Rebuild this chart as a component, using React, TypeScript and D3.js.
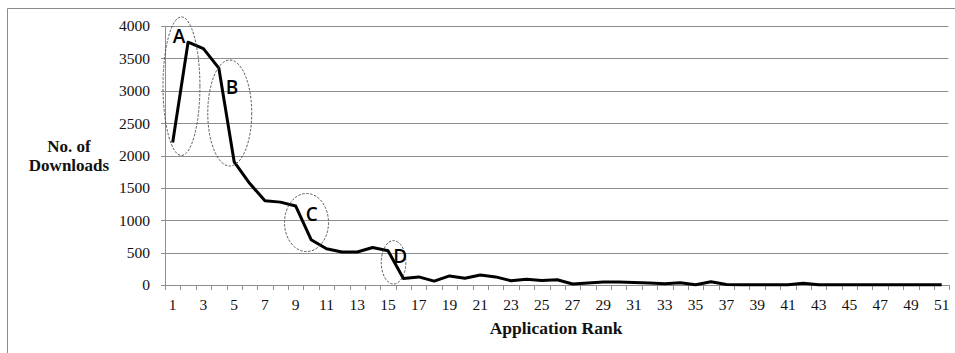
import React from "react";
import * as d3 from "d3";

const ranks: number[] = d3.range(1, 52);
const downloads: number[] = [
  2200, 3750, 3650, 3350, 1900, 1570, 1300, 1280, 1220, 700,
  560, 510, 510, 580, 530, 100, 125, 60, 140, 105,
  155, 125, 65, 90, 70, 80, 15, 30, 45, 45,
  40, 30, 20, 35, 5, 50, 8, 5, 5, 5,
  5, 28, 5, 5, 5, 5, 5, 5, 5, 5, 5,
];
const yTicks: number[] = [0, 500, 1000, 1500, 2000, 2500, 3000, 3500, 4000];
const xTickLabels: number[] = ranks.filter((r) => r % 2 === 1);

// annotation ellipses in data units (rank, value)
const annoLabels: string[] = ["A", "B", "C", "D"];
const annoCx: number[] = [1.57, 4.71, 9.7, 15.36];
const annoCy: number[] = [3070, 2656, 965, 350];
const annoRx: number[] = [1.2, 1.43, 1.43, 0.8];
const annoRy: number[] = [1070, 818, 448, 335];
const annoLx: number[] = [1.41, 4.85, 10.04, 15.8];
const annoLy: number[] = [3845, 3057, 1096, 437];

const W = 955;
const H = 353;
const left = 165;
const right = 949.4;
const top = 26;
const bottom = 285;

export default function App() {
  const x = d3.scaleLinear().domain([0.5, 51.5]).range([left, right]);
  const y = d3.scaleLinear().domain([0, 4000]).range([bottom, top]);
  const pxPerRank = x(1) - x(0);
  const pxPerVal = y(0) - y(1);
  const line = d3
    .line<number>()
    .x((_, i) => x(ranks[i]))
    .y((d) => y(d));
  const boundaries = d3.range(0, 52).map((i) => x(i + 0.5));
  const serif = "Liberation Serif, Times New Roman, serif";
  const sans = "Open Sans, Liberation Sans, sans-serif";

  return (
    <svg
      width={W}
      height={H}
      style={{ position: "absolute", left: 0, top: 0, background: "#fff" }}
    >
      <rect x={0} y={0} width={W} height={H} fill="#fff" />
      {/* outer frame */}
      <line x1={7.5} y1={8.5} x2={W} y2={8.5} stroke="#8c8c8c" strokeWidth={1} />
      <line x1={7.5} y1={8.5} x2={7.5} y2={H} stroke="#8c8c8c" strokeWidth={1} />

      {/* gridlines and y ticks */}
      {yTicks.map((t) => (
        <g key={t}>
          {t > 0 && (
            <line
              x1={left}
              x2={right - 1}
              y1={Math.round(y(t)) + 0.5}
              y2={Math.round(y(t)) + 0.5}
              stroke="#8e8e8e"
              strokeWidth={1}
            />
          )}
          <line
            x1={left - 4}
            x2={left}
            y1={Math.round(y(t)) + 0.5}
            y2={Math.round(y(t)) + 0.5}
            stroke="#8e8e8e"
          />
          <text
            x={150}
            y={y(t)}
            dy="0.35em"
            textAnchor="end"
            style={{ fontFamily: serif, fontSize: 15.5 }}
            fill="#111"
          >
            {t}
          </text>
        </g>
      ))}
      {/* y axis */}
      <line x1={left + 0.5} x2={left + 0.5} y1={top} y2={bottom} stroke="#8e8e8e" />
      {/* x axis */}
      <line x1={left} x2={right} y1={bottom + 0.5} y2={bottom + 0.5} stroke="#8e8e8e" />
      {boundaries.map((b, i) => (
        <line
          key={i}
          x1={Math.round(b) + 0.5}
          x2={Math.round(b) + 0.5}
          y1={bottom}
          y2={bottom + 5}
          stroke="#8e8e8e"
        />
      ))}
      {xTickLabels.map((r) => (
        <text
          key={r}
          x={x(r)}
          y={310}
          textAnchor="middle"
          style={{ fontFamily: serif, fontSize: 15.5 }}
          fill="#111"
        >
          {r}
        </text>
      ))}

      {/* data line */}
      <path
        d={line(downloads) || ""}
        fill="none"
        stroke="#000"
        strokeWidth={3}
        strokeLinejoin="round"
      />

      {/* annotations */}
      {annoLabels.map((lab, i) => (
        <g key={lab}>
          <ellipse
            cx={x(annoCx[i])}
            cy={y(annoCy[i])}
            rx={annoRx[i] * pxPerRank}
            ry={annoRy[i] * pxPerVal}
            fill="none"
            stroke="#444"
            strokeWidth={0.9}
            strokeDasharray="2.5,1.5"
          />
          <text
            x={x(annoLx[i])}
            y={y(annoLy[i])}
            dy="0.35em"
            textAnchor="middle"
            style={{ fontFamily: sans, fontSize: 19, fontWeight: 600 }}
            fill="#000"
          >
            {lab}
          </text>
        </g>
      ))}

      {/* axis titles */}
      <text
        x={69}
        y={152}
        textAnchor="middle"
        style={{ fontFamily: serif, fontSize: 17, fontWeight: "bold" }}
        fill="#111"
      >
        No. of
      </text>
      <text
        x={69}
        y={171}
        textAnchor="middle"
        style={{ fontFamily: serif, fontSize: 17, fontWeight: "bold" }}
        fill="#111"
      >
        Downloads
      </text>
      <text
        x={556}
        y={334}
        textAnchor="middle"
        style={{ fontFamily: serif, fontSize: 17.5, fontWeight: "bold" }}
        fill="#111"
      >
        Application Rank
      </text>
    </svg>
  );
}
